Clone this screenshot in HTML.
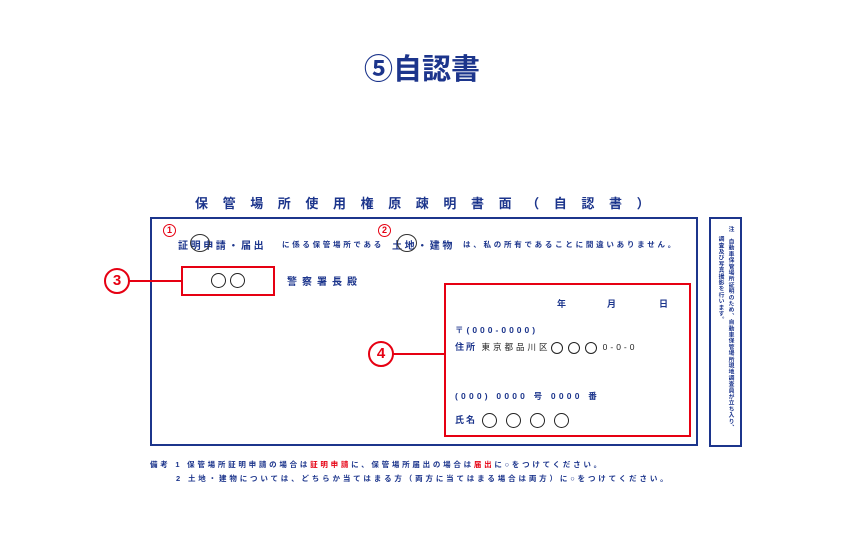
<!DOCTYPE html>
<html><head><meta charset="utf-8"><style>
body{margin:0;width:844px;height:539px;background:#fff;position:relative;overflow:hidden;font-family:"Liberation Sans","Noto Sans CJK JP",sans-serif;color:#1c358c;font-weight:bold}
.a{position:absolute;white-space:nowrap}
.rc{position:absolute;width:22px;height:22px;border:2px solid #e60012;border-radius:50%;color:#e60012;font-size:15px;text-align:center;line-height:22px;background:#fff}
.sc{position:absolute;width:11px;height:11px;border:1.5px solid #e60012;border-radius:50%;color:#e60012;font-size:9px;text-align:center;line-height:11px}
.o{display:inline-block;width:13px;height:13px;border:1.5px solid #222;border-radius:50%;vertical-align:middle}
.r{color:#e60012}
</style></head><body>
<div class="a" style="left:0;width:844px;top:46px;text-align:center;font-size:29px">⑤自認書</div>
<div class="a" style="left:195px;top:193px;font-size:13px;letter-spacing:14.6px">保管場所使用権原疎明書面（自認書）</div>
<div class="a" style="left:150px;top:217px;width:544px;height:225px;border:2px solid #1c358c"></div>
<div class="a" style="left:709px;top:217px;width:29px;height:226px;border:2px solid #1c358c"></div>
<div class="a" style="left:726px;top:226px;font-size:5.8px;writing-mode:vertical-rl;letter-spacing:0.4px">注　自動車保管場所証明のため、自動車保管場所現地調査員が立ち入り、</div>
<div class="a" style="left:716px;top:236px;font-size:5.8px;writing-mode:vertical-rl;letter-spacing:0.4px">調査及び写真撮影を行います。</div>
<div class="sc" style="left:163px;top:224px">1</div>
<div class="sc" style="left:378px;top:224px">2</div>
<div class="a" style="left:178px;top:237px;font-size:10px;letter-spacing:2.6px">証明申請・届出</div>
<div class="a" style="left:282px;top:239px;font-size:7.5px;letter-spacing:2.7px">に係る保管場所である</div>
<div class="a" style="left:392px;top:237px;font-size:10px;letter-spacing:2.6px">土地・建物</div>
<div class="a" style="left:463px;top:239px;font-size:7.5px;letter-spacing:2.75px">は、私の所有であることに間違いありません。</div>
<div class="a" style="left:190px;top:234px;width:18px;height:16px;border:1px solid #333;border-radius:50%"></div>
<div class="a" style="left:397px;top:234px;width:18px;height:16px;border:1px solid #333;border-radius:50%"></div>
<div class="a" style="left:181px;top:266px;width:90px;height:26px;border:2px solid #e60012;text-align:center;line-height:26px;font-weight:normal"><span class="o"></span> <span class="o"></span></div>
<div class="a" style="left:287px;top:273px;font-size:10px;letter-spacing:5px">警察署長殿</div>
<div class="a" style="left:129px;top:280px;width:52px;height:2px;background:#e60012"></div>
<div class="rc" style="left:104px;top:268px">3</div>
<div class="a" style="left:444px;top:283px;width:243px;height:150px;border:2px solid #e60012"></div>
<div class="a" style="left:393px;top:353px;width:51px;height:2px;background:#e60012"></div>
<div class="rc" style="left:368px;top:341px">4</div>
<div class="a" style="left:557px;top:297px;font-size:9px">年</div>
<div class="a" style="left:607px;top:297px;font-size:9px">月</div>
<div class="a" style="left:659px;top:297px;font-size:9px">日</div>
<div class="a" style="left:455px;top:324px;font-size:8.5px;letter-spacing:3px">〒(000-0000)</div>
<div class="a" style="left:455px;top:340px;font-size:9px;letter-spacing:2px">住所 <span style="color:#222;font-weight:normal;font-size:8.5px;letter-spacing:3px">東京都品川区<span class="o" style="width:10px;height:10px"></span> <span class="o" style="width:10px;height:10px"></span> <span class="o" style="width:10px;height:10px"></span> 0-0-0</span></div>
<div class="a" style="left:455px;top:390px;font-size:8.5px;letter-spacing:3.2px">(000) 0000 号 0000 番</div>
<div class="a" style="left:455px;top:413px;font-size:9px;letter-spacing:2px">氏名 <span class="o"></span>&nbsp; <span class="o"></span>&nbsp; <span class="o"></span>&nbsp; <span class="o"></span></div>
<div class="a" style="left:150px;top:459px;font-size:7.5px;letter-spacing:2.75px">備考 1 保管場所証明申請の場合は<span class="r">証明申請</span>に、保管場所届出の場合は<span class="r">届出</span>に○をつけてください。</div>
<div class="a" style="left:176px;top:473px;font-size:7.5px;letter-spacing:2.85px">2 土地・建物については、どちらか当てはまる方（両方に当てはまる場合は両方）に○をつけてください。</div>
</body></html>
